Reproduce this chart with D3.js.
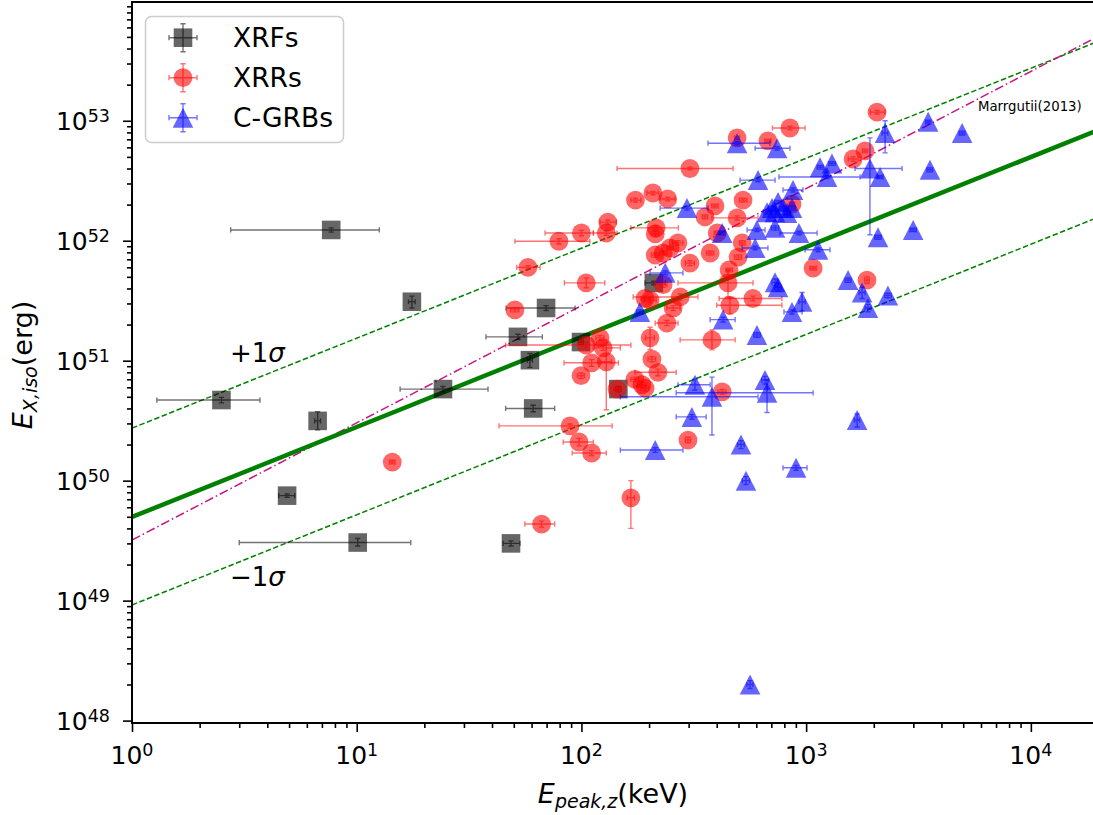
<!DOCTYPE html>
<html><head><meta charset="utf-8">
<script src="https://cdn.jsdelivr.net/npm/d3@7"></script>
<style>
body{margin:0;background:#fff}
svg{display:block}
text{font-family:"DejaVu Sans",sans-serif;fill:#000}
</style>
</head><body>
<svg id="c" width="1093" height="815"></svg>
<script>
// rows: [Ep (keV), Ep low, Ep high, Eiso (erg), Eiso low, Eiso high]
const xrfs = [
[7.7,2.75,12.6,1.23e52,1.18e52,1.28e52],
[17.6,17.0,18.2,3.1e51,2.75e51,3.45e51],
[2.5,1.29,3.71,4.7e50,4.45e50,4.95e50],
[6.7,6.5,6.9,3.15e50,2.65e50,3.75e50],
[4.9,4.5,5.3,7.5e49,7.25e49,7.75e49],
[10.1,3.0,17.4,3.05e49,2.85e49,3.3e49],
[24.2,15.6,38.4,5.8e50,5.5e50,6.1e50],
[48.6,44.8,53.3,3.0e49,2.85e49,3.15e49],
[52.2,37.6,67.0,1.58e51,1.5e51,1.66e51],
[59.0,57.5,60.5,1.01e51,0.88e51,1.15e51],
[61.0,46.0,76.0,4.0e50,3.75e50,4.25e50],
[69.6,46.2,93.7,2.75e51,2.62e51,2.88e51],
[99.6,97.0,102,1.43e51,1.36e51,1.5e51],
[146,142,150,5.8e50,5.5e50,6.1e50],
[210,192,236,4.45e51,4.3e51,4.6e51]
];
const xrrs = [
[14.4,14.0,14.8,1.43e50,1.38e50,1.48e50],
[304,144,473,4.0e52,3.9e52,4.1e52],
[208,196,220,2.5e52,2.42e52,2.58e52],
[174,166,184,2.18e52,2.1e52,2.26e52],
[242,224,261,2.23e52,2.15e52,2.31e52],
[131,121,143,1.43e52,1.37e52,1.49e52],
[100,68.9,113,1.16e52,1.1e52,1.22e52],
[129,113,144,1.16e52,1.11e52,1.21e52],
[79.4,50.6,109,9.9e51,9.4e51,1.04e52],
[215,166,270,1.28e52,1.22e52,1.34e52],
[213,205,221,1.14e52,1.08e52,1.2e52],
[57.8,51.5,65.5,6.0e51,5.8e51,6.2e51],
[105,84,127,4.45e51,4.05e51,4.9e51],
[50.6,48.5,52.7,2.65e51,2.55e51,2.75e51],
[847,708,989,8.7e52,8.4e52,9.0e52],
[493,480,506,7.2e52,7.0e52,7.4e52],
[676,655,698,6.8e52,6.6e52,7.0e52],
[1828,1780,1880,5.6e52,5.4e52,5.8e52],
[1618,1540,1700,4.8e52,4.6e52,5.0e52],
[2068,1930,2240,1.18e53,1.14e53,1.22e53],
[524,505,545,2.18e52,2.1e52,2.26e52],
[393,380,406,1.95e52,1.88e52,2.02e52],
[355,345,365,1.58e52,1.52e52,1.64e52],
[493,381,611,1.55e52,1.49e52,1.61e52],
[865,840,890,2.02e52,1.95e52,2.09e52],
[402,390,415,1.16e52,1.12e52,1.2e52],
[269,255,283,9.6e51,9.2e51,1.0e52],
[248,240,256,8.7e51,8.4e51,9.0e51],
[231,223,240,7.9e51,7.6e51,8.2e51],
[213,205,221,7.6e51,7.3e51,7.9e51],
[304,290,318,6.5e51,6.2e51,6.8e51],
[374,360,388,7.9e51,7.6e51,8.2e51],
[519,505,535,9.6e51,9.2e51,1.0e52],
[498,480,516,7.3e51,7.0e51,7.6e51],
[454,440,470,5.7e51,5.5e51,5.9e51],
[449,269,580,4.45e51,3.4e51,5.7e51],
[1074,1040,1110,5.9e51,5.7e51,6.1e51],
[1866,1820,1910,4.7e51,4.4e51,5.0e51],
[275,170,330,3.4e51,3.2e51,3.6e51],
[256,240,275,2.75e51,2.62e51,2.88e51],
[202,190,215,3.2e51,3.05e51,3.35e51],
[240,213,269,2.06e51,1.96e51,2.16e51],
[458,400,780,2.9e51,2.45e51,3.35e51],
[580,410,780,3.3e51,3.15e51,3.45e51],
[381,275,483,1.49e51,1.23e51,1.8e51],
[202,193,211,1.55e51,1.24e51,1.9e51],
[231,222,240,4.3e51,4.1e51,4.5e51],
[192,184,200,3.3e51,3.15e51,3.45e51],
[121,116,126,1.55e51,1.48e51,1.62e51],
[105,46,166,1.35e51,1.28e51,1.42e51],
[125,113,149,1.28e51,1.22e51,1.34e51],
[111,83.7,146,9.6e50,9.0e50,1.02e51],
[129,122,136,9.8e50,3.9e50,1.4e51],
[99.6,96,103,7.5e50,7.1e50,7.9e50],
[206,198,214,1.03e51,0.98e51,1.08e51],
[219,173,264,8.0e50,7.5e50,8.5e50],
[173,166,180,7.0e50,6.7e50,7.3e50],
[186,178,194,6.3e50,6.0e50,6.6e50],
[192,184,200,5.9e50,5.6e50,6.2e50],
[144,139,150,5.8e50,5.5e50,6.1e50],
[89,43,137,2.86e50,2.75e50,2.97e50],
[97.6,83,113,2.1e50,1.95e50,2.25e50],
[111,91,129,1.7e50,1.62e50,1.78e50],
[298,290,306,2.18e50,2.07e50,2.3e50],
[166,160,172,7.2e49,4.0e49,1.0e50],
[66.5,56,76,4.35e49,4.1e49,4.6e49],
[423,405,440,5.5e50,5.25e50,5.75e50]
];
const cgrbs = [
[2246,2180,2310,7.9e52,5.4e52,1.0e53],
[3492,3400,3590,9.8e52,9.5e52,1.01e53],
[4943,4800,5090,7.9e52,7.6e52,8.2e52],
[493,366,690,6.5e52,6.3e52,6.7e52],
[743,593,847,5.9e52,5.7e52,6.1e52],
[611,508,727,3.2e52,3.1e52,3.3e52],
[1153,1120,1190,4.1e52,3.95e52,4.25e52],
[1303,1260,1350,4.4e52,4.25e52,4.55e52],
[1239,757,1738,3.4e52,3.3e52,3.5e52],
[1923,1651,2673,4.0e52,1.12e52,7.2e52],
[2133,2070,2200,3.4e52,3.3e52,3.5e52],
[3557,3450,3660,3.9e52,3.75e52,4.05e52],
[295,224,366,1.87e52,1.8e52,1.94e52],
[874,789,968,2.65e52,2.55e52,2.75e52],
[705,680,730,1.87e52,1.8e52,1.94e52],
[727,700,755,1.73e52,1.67e52,1.79e52],
[750,725,775,2.1e52,2.03e52,2.17e52],
[789,765,815,1.87e52,1.8e52,1.94e52],
[822,795,850,1.7e52,1.64e52,1.76e52],
[670,645,695,1.73e52,1.67e52,1.79e52],
[865,835,895,1.87e52,1.8e52,1.94e52],
[423,410,436,1.16e52,1.12e52,1.2e52],
[604,546,656,1.23e52,1.19e52,1.27e52],
[727,700,755,1.28e52,1.23e52,1.33e52],
[929,765,1119,1.16e52,1.12e52,1.2e52],
[593,519,676,8.7e51,8.4e51,9.0e51],
[1130,989,1277,8.4e51,8.1e51,8.7e51],
[2089,2020,2160,1.07e52,1.03e52,1.11e52],
[2994,2900,3090,1.23e52,1.19e52,1.27e52],
[236,202,283,5.4e51,5.2e51,5.6e51],
[727,705,750,4.5e51,4.2e51,4.8e51],
[750,725,775,4.1e51,3.8e51,4.4e51],
[1537,1490,1585,4.7e51,4.5e51,4.9e51],
[1774,1720,1830,3.7e51,3.3e51,4.1e51],
[2312,2240,2390,3.5e51,3.35e51,3.65e51],
[1884,1830,1940,2.75e51,2.55e51,2.95e51],
[182,176,188,2.55e51,2.45e51,2.65e51],
[427,374,483,2.2e51,2.1e51,2.3e51],
[865,797,959,2.55e51,2.45e51,2.65e51],
[959,930,990,3.1e51,2.6e51,3.7e51],
[604,585,625,1.64e51,1.57e51,1.71e51],
[320,269,374,6.3e50,5.7e50,7.0e50],
[381,149,611,5.0e50,2.4e50,7.3e50],
[656,635,680,6.9e50,6.4e50,7.4e50],
[670,264,1074,5.4e50,3.7e50,6.9e50],
[310,264,359,3.4e50,3.25e50,3.55e50],
[213,149,283,1.8e50,1.72e50,1.88e50],
[513,495,530,2.0e50,1.85e50,2.15e50],
[540,520,560,1.0e50,0.93e50,1.08e50],
[902,789,1009,1.28e50,1.22e50,1.34e50],
[1686,1640,1730,3.2e50,2.8e50,3.6e50],
[563,545,580,2.0e48,1.85e48,2.15e48]
];
// relation lines: endpoints [Ep, Eiso]
const fitLine = [[1,4.98e49],[1.91e4,8.1e52]];
const plusSigma = [[1,2.74e50],[1.91e4,4.45e53]];
const minusSigma = [[1,9.2e48],[1.91e4,1.52e52]];
const marguttiLine = [[1,3.2e49],[1.91e4,4.85e53]];
const xTicks = [1,10,100,1000,10000];
const xTickExp = ["0","1","2","3","4"];
const yTicks = [1e48,1e49,1e50,1e51,1e52,1e53];
const yTickExp = ["48","49","50","51","52","53"];
const seriesNames = ["XRFs","XRRs","C-GRBs"];

const svg = d3.select("#c");
const L=132, R=1094, T=2, B=723;
const x = d3.scaleLog().domain([1,1.91e4]).range([L,R]);
const y = d3.scaleLog().domain([9.55e47,9.77e53]).range([B,T]);

svg.append("defs").append("clipPath").attr("id","clip")
  .append("rect").attr("x",L).attr("y",T).attr("width",R-L).attr("height",B-T);
const plot = svg.append("g").attr("clip-path","url(#clip)");

const line = d3.line().x(d=>x(d[0])).y(d=>y(d[1]));
plot.append("path").datum(plusSigma).attr("d",line).attr("fill","none")
  .attr("stroke","#008000").attr("stroke-width",1.5).attr("stroke-dasharray","5.5,2.5");
plot.append("path").datum(minusSigma).attr("d",line).attr("fill","none")
  .attr("stroke","#008000").attr("stroke-width",1.5).attr("stroke-dasharray","5.5,2.5");
plot.append("path").datum(marguttiLine).attr("d",line).attr("fill","none")
  .attr("stroke","#c71585").attr("stroke-width",1.5).attr("stroke-dasharray","9,3,1.5,3");
plot.append("path").datum(fitLine).attr("d",line).attr("fill","none")
  .attr("stroke","#008000").attr("stroke-width",4.5);

const cap = 2.6;
function drawErr(g, rows, color){
  const eg = g.append("g").attr("stroke",color).attr("stroke-opacity",0.55).attr("stroke-width",1.4).attr("fill","none");
  rows.forEach(r=>{
    const cx=x(r[0]), cy=y(r[3]);
    const x0=x(r[1]), x1=x(r[2]), y0=y(r[4]), y1=y(r[5]);
    eg.append("path").attr("d",
      `M${x0},${cy}H${x1}M${x0},${cy-cap}V${cy+cap}M${x1},${cy-cap}V${cy+cap}`+
      `M${cx},${y0}V${y1}M${cx-cap},${y0}H${cx+cap}M${cx-cap},${y1}H${cx+cap}`);
  });
}
function markerPath(kind){
  if(kind==="s") return "M-9.3,-9.3H9.3V9.3H-9.3Z";
  if(kind==="o") return d3.arc()({innerRadius:0,outerRadius:9.4,startAngle:0,endAngle:2*Math.PI});
  return "M0,-10L10.3,10L-10.3,10Z";
}
function drawSeries(rows, color, kind){
  const g = plot.append("g");
  g.selectAll("path.m").data(rows).enter().append("path").attr("class","m")
    .attr("d",markerPath(kind))
    .attr("transform",r=>`translate(${x(r[0])},${y(r[3])})`)
    .attr("fill",color).attr("fill-opacity",0.6);
  drawErr(g, rows, color);
}
drawSeries(xrfs,"#000000","s");
drawSeries(xrrs,"#ff0000","o");
drawSeries(cgrbs,"#0000ff","^");

// axes
const minorTicks = (lo,hi)=>{const a=[];for(let e=-1;e<=6;e++)for(let m=2;m<=9;m++){const v=m*Math.pow(10,e); if(v>=lo&&v<=hi)a.push(v);}return a;};
const yMinor=[];for(let e=47;e<=53;e++)for(let m=2;m<=9;m++){const v=m*Math.pow(10,e); if(v>=9.55e47&&v<=9.77e53)yMinor.push(v);}
const xMinor = minorTicks(1,1.91e4);

function styleAxis(g){g.select(".domain").remove();g.selectAll("line").attr("stroke","#000").attr("stroke-width",1.6);g.selectAll("text").remove();}
svg.append("g").attr("transform",`translate(0,${B})`)
  .call(d3.axisBottom(x).tickValues(xTicks).tickSize(9).tickFormat("")).call(styleAxis);
svg.append("g").attr("transform",`translate(0,${B})`)
  .call(d3.axisBottom(x).tickValues(xMinor).tickSize(5).tickFormat("")).call(styleAxis);
svg.append("g").attr("transform",`translate(${L},0)`)
  .call(d3.axisLeft(y).tickValues(yTicks).tickSize(9).tickFormat("")).call(styleAxis);
svg.append("g").attr("transform",`translate(${L},0)`)
  .call(d3.axisLeft(y).tickValues(yMinor).tickSize(5).tickFormat("")).call(styleAxis);

// frame
svg.append("rect").attr("x",L).attr("y",T).attr("width",R-L).attr("height",B-T)
  .attr("fill","none").attr("stroke","#000").attr("stroke-width",2);

// tick labels
xTicks.forEach((v,i)=>{
  const t = svg.append("text").attr("x",x(v)).attr("y",764).attr("text-anchor","middle").attr("font-size",25);
  t.append("tspan").text("10");
  t.append("tspan").attr("dy",-8).attr("font-size",17.5).text(xTickExp[i]);
});
yTicks.forEach((v,i)=>{
  const t = svg.append("text").attr("x",110).attr("y",y(v)+9.2).attr("text-anchor","end").attr("font-size",25);
  t.append("tspan").text("10");
  t.append("tspan").attr("dy",-8).attr("font-size",17.5).text(yTickExp[i]);
});

// axis labels
const xl = svg.append("text").attr("x",613).attr("y",803).attr("text-anchor","middle").attr("font-size",27);
xl.append("tspan").attr("font-style","italic").text("E");
xl.append("tspan").attr("font-style","italic").attr("font-size",19).attr("dy",5).text("peak,z");
xl.append("tspan").attr("dy",-5).text("(keV)");
const yl = svg.append("text").attr("transform","translate(32,365) rotate(-90)").attr("text-anchor","middle").attr("font-size",27);
yl.append("tspan").attr("font-style","italic").text("E");
yl.append("tspan").attr("font-style","italic").attr("font-size",19).attr("dy",5).text("X,iso");
yl.append("tspan").attr("dy",-5).text("(erg)");

// annotations
const p1 = svg.append("text").attr("x",230).attr("y",362).attr("font-size",26);
p1.append("tspan").text("+1");
p1.append("tspan").attr("font-style","italic").text("σ");
const m1 = svg.append("text").attr("x",230).attr("y",586).attr("font-size",26);
m1.append("tspan").text("\u22121");
m1.append("tspan").attr("font-style","italic").text("σ");
svg.append("text").attr("x",978).attr("y",111).attr("font-size",13.3).text("Marrgutii(2013)");

// legend
const lg = svg.append("g");
lg.append("rect").attr("x",145.5).attr("y",16.5).attr("width",198).attr("height",126).attr("rx",6)
  .attr("fill","#fff").attr("fill-opacity",0.8).attr("stroke","#cccccc").attr("stroke-width",1.5);
const legItems = [["#000000","s"],["#ff0000","o"],["#0000ff","^"]];
legItems.forEach((it,i)=>{
  const cy = 37.7 + i*40, cx = 183;
  const g = lg.append("g");
  g.append("path").attr("d",markerPath(it[1])).attr("transform",`translate(${cx},${cy})`)
    .attr("fill",it[0]).attr("fill-opacity",0.6);
  g.append("path").attr("d",
    `M${cx-14},${cy}H${cx+14}M${cx-14},${cy-cap}V${cy+cap}M${cx+14},${cy-cap}V${cy+cap}`+
    `M${cx},${cy-14}V${cy+14}M${cx-cap},${cy-14}H${cx+cap}M${cx-cap},${cy+14}H${cx+cap}`)
    .attr("stroke",it[0]).attr("stroke-opacity",0.55).attr("stroke-width",1.4).attr("fill","none");
  lg.append("text").attr("x",233).attr("y",cy+9.6).attr("font-size",26.5).text(seriesNames[i]);
});
</script>
</body></html>
